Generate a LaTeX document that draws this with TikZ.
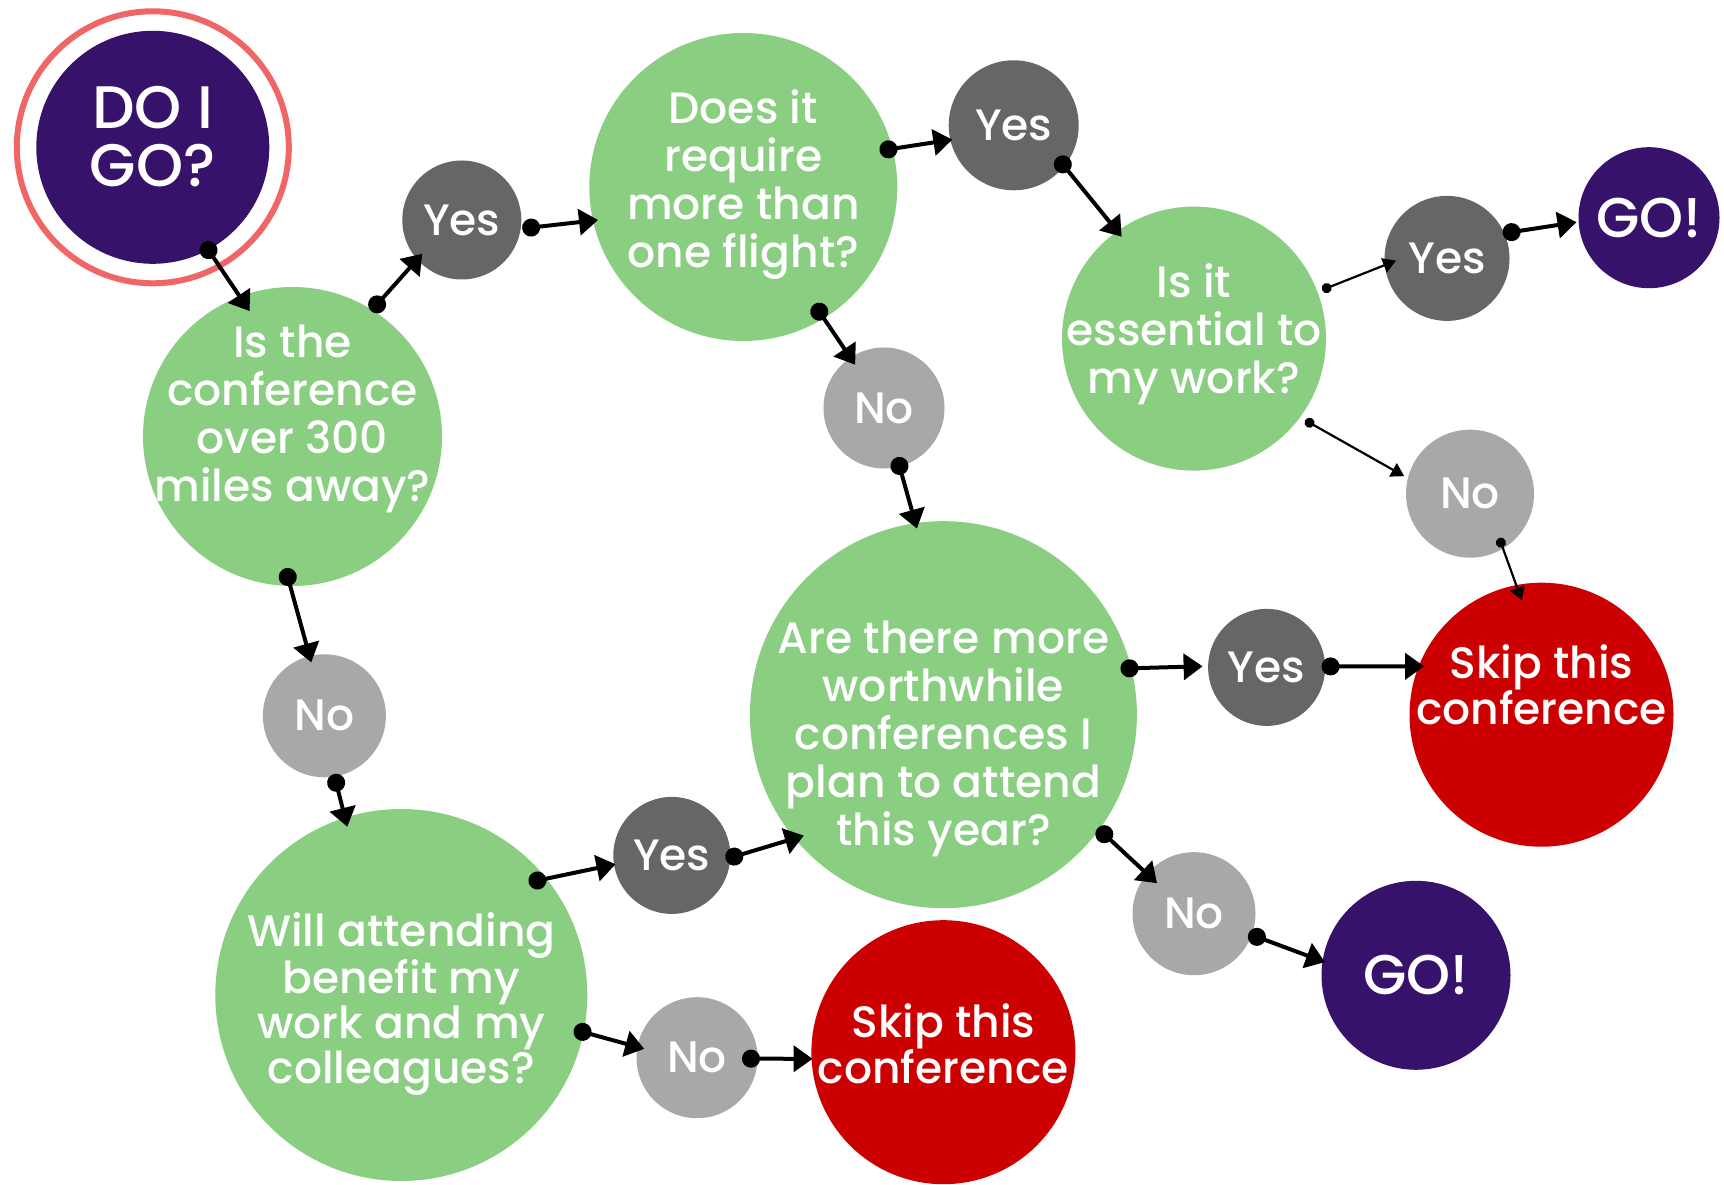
\documentclass[tikz,border=0pt]{standalone}
\usepackage{fontspec}
\setmainfont{Poppins}[UprightFont={* Medium}]
\usetikzlibrary{arrows.meta}
\definecolor{qgreen}{HTML}{8ACE82}
\definecolor{yesgray}{HTML}{666666}
\definecolor{nogray}{HTML}{A8A8A8}
\definecolor{gopurple}{HTML}{36126B}
\definecolor{skipred}{HTML}{CC0000}
\definecolor{ringred}{HTML}{F06565}
\begin{document}
\begin{tikzpicture}[x=1pt,y=1pt,
  base/.style={circle, inner sep=0pt, outer sep=0pt, text=white, align=center},
  qnode/.style={base, fill=qgreen},
  yesnode/.style={base, fill=yesgray, font=\fontsize{44}{48}\selectfont},
  nonode/.style={base, fill=nogray, font=\fontsize{44}{48}\selectfont},
  gonode/.style={base, fill=gopurple, font=\fontsize{56}{58}\selectfont},
  skipnode/.style={base, fill=skipred},
  txt/.style={text=white, align=center, inner sep=0pt, font=\fontsize{44}{48}\selectfont},
  conn/.style={line width=4pt, {Circle[length=18pt]}-{Triangle[length=19pt,width=26pt]}},
  thinconn/.style={line width=2.2pt, {Circle[length=10pt]}-{Triangle[length=13pt,width=15pt]}},
]
\useasboundingbox[fill=white] (0,0) rectangle (1724,1184);

% start
\node[base, draw=ringred, line width=6pt, minimum size=272pt] (ring) at (152.8,1036.7) {};
\node[gonode, minimum size=233pt] (doigo) at (152.8,1036.7) {};
\node[txt, font=\fontsize{60}{58}\selectfont] (doigot) at ([yshift=11pt]doigo.center) {DO I\\GO?};

% questions
\node[qnode, minimum size=299pt] (q1) at (292.5,747.5) {};
\node[txt] (q1t) at ([yshift=18pt]q1.center) {Is the\\conference\\over 300\\miles away?};
\node[qnode, minimum size=308pt] (q2) at (743.3,997) {};
\node[txt] (q2t) at ([yshift=2pt]q2.center) {Does it\\require\\more than\\one flight?};
\node[qnode, minimum size=264pt] (q3) at (1194,845.4) {};
\node[txt] (q3t) at ([yshift=4pt]q3.center) {Is it\\essential to\\my work?};
\node[qnode, minimum size=387pt] (q4) at (943.4,469.3) {};
\node[txt] (q4t) at ([yshift=-24pt]q4.center) {Are there more\\worthwhile\\conferences I\\plan to attend\\this year?};
\node[qnode, minimum size=372pt] (q5) at (401.3,189) {};
\node[txt, font=\fontsize{44}{45}\selectfont] (q5t) at ([yshift=-9pt]q5.center) {Will attending\\benefit my\\work and my\\colleagues?};

% answers
\node[yesnode, minimum size=119pt] (yes1) at (461.8,964) {Yes};
\node[yesnode, minimum size=130pt] (yes2) at (1013.7,1058.7) {Yes};
\node[nonode, minimum size=121pt] (no2) at (884,776) {No};
\node[yesnode, minimum size=125pt] (yes3) at (1447,925.6) {Yes};
\node[nonode, minimum size=128pt] (no3) at (1470,690.3) {No};
\node[yesnode, minimum size=117pt] (yes4) at (1266.6,516.6) {Yes};
\node[nonode, minimum size=123pt] (no4) at (1194,270.3) {No};
\node[nonode, minimum size=123pt] (no1) at (324.4,468.2) {No};
\node[yesnode, minimum size=117pt] (yes5) at (671.8,328.6) {Yes};
\node[nonode, minimum size=121pt] (no5) at (697,126.3) {No};

% outcomes
\node[gonode, minimum size=141pt] (go1) at (1649,966.3) {GO!};
\node[gonode, minimum size=189pt] (go2) at (1416,208.7) {GO!};
\node[skipnode, minimum size=264pt] (skip1) at (1541.5,469.3) {};
\node[txt, font=\fontsize{44}{46}\selectfont] (skip1t) at ([yshift=30pt]skip1.center) {Skip this\\conference};
\node[skipnode, minimum size=264pt] (skip2) at (943.4,131.8) {};
\node[txt, font=\fontsize{44}{46}\selectfont] (skip2t) at ([yshift=8pt]skip2.center) {Skip this\\conference};

% connectors
\draw[conn] ([shift={(-62:108)}]doigo.center) -- ([shift={(108.9:132.5)}]q1.center);
\draw[conn] ([shift={(57.9:148)}]q1.center) -- ([shift={(220.5:52)}]yes1.center);
\draw[conn] ([shift={(-8.1:61)}]yes1.center) -- ([shift={(192.8:149)}]q2.center);
\draw[conn] ([shift={(14.9:141)}]q2.center) -- ([shift={(193.1:63)}]yes2.center);
\draw[conn] ([shift={(-36.5:54)}]yes2.center) -- ([shift={(125.4:125)}]q3.center);
\draw[conn] ([shift={(-58.8:137)}]q2.center) -- ([shift={(123.7:52)}]no2.center);
\draw[conn] ([shift={(-75.2:51)}]no2.center) -- ([shift={(98.1:188)}]q4.center);
\draw[thinconn] ([shift={(20.8:137)}]q3.center) -- ([shift={(182.5:51)}]yes3.center);
\draw[conn] ([shift={(24.1:61)}]yes3.center) -- ([shift={(183.5:72.6)}]go1.center);
\draw[thinconn] ([shift={(-36.3:138)}]q3.center) -- ([shift={(165.1:68)}]no3.center);
\draw[thinconn] ([shift={(-56.6:53)}]no3.center) -- ([shift={(99.8:116)}]skip1.center);
\draw[conn] ([shift={(14.6:183)}]q4.center) -- ([shift={(179:64)}]yes4.center);
\draw[conn] ([shift={(1:55)}]yes4.center) -- ([shift={(157.6:127)}]skip1.center);
\draw[conn] ([shift={(-36.3:191.5)}]q4.center) -- ([shift={(140.5:48)}]no4.center);
\draw[conn] ([shift={(-20.2:58)}]no4.center) -- ([shift={(171.8:92)}]go2.center);
\draw[conn] ([shift={(-93.1:132)}]q1.center) -- ([shift={(103.8:55)}]no1.center);
\draw[conn] ([shift={(-80.7:59)}]no1.center) -- ([shift={(107.8:176.7)}]q5.center);
\draw[conn] ([shift={(41.5:170)}]q5.center) -- ([shift={(-171.1:57)}]yes5.center);
\draw[conn] ([shift={(-4:54)}]yes5.center) -- ([shift={(-139.1:184.7)}]q4.center);
\draw[conn] ([shift={(-11.3:176)}]q5.center) -- ([shift={(170.5:53.5)}]no5.center);
\draw[conn] ([shift={(-1.2:45)}]no5.center) -- ([shift={(182.9:131)}]skip2.center);
\end{tikzpicture}
\end{document}
